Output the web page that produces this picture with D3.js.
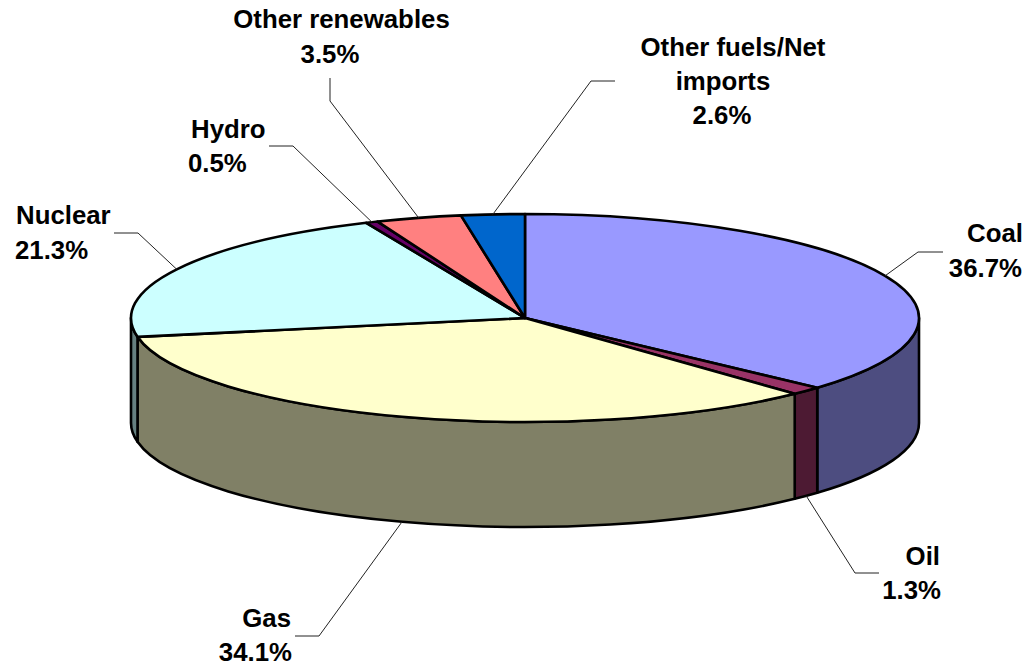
<!DOCTYPE html>
<html><head><meta charset="utf-8">
<script src="https://cdn.jsdelivr.net/npm/d3@7/dist/d3.min.js"></script>
<style>html,body{margin:0;padding:0;background:#fff;overflow:hidden}
text{font-family:"Liberation Sans",Arial,sans-serif;font-weight:bold;font-size:25.8px;fill:#000}</style>
</head><body><svg id="c" width="1029" height="668"></svg>
<script>
const categories=["Coal","Oil","Gas","Nuclear","Hydro","Other renewables","Other fuels/Net imports"];
const values=[36.7,1.3,34.1,21.3,0.5,3.5,2.6];
const topColors=["#9999FF","#993366","#FFFFCC","#CCFFFF","#660066","#FF8080","#0066CC"];
const sideColors=["#4D4D80","#4D1A33","#808066","#668080","#330033","#804040","#003366"];
const labelLines=[["Coal"],["Oil"],["Gas"],["Nuclear"],["Hydro"],["Other renewables"],["Other fuels/Net","imports"]];
// label layout: per-line x and baseline, alignment, leader elbow and end
const labelLayout=[
 {xs:[1023,1022],ys:[242,277],a:"end",elbow:[918,252],end:[943,252]},
 {xs:[940,941],ys:[565,599],a:"end",elbow:[855,573],end:[879,573]},
 {xs:[291,292],ys:[627,661],a:"end",elbow:[319,636],end:[295,636]},
 {xs:[16,15],ys:[224,259],a:"start",elbow:[138,233],end:[114,233]},
 {xs:[191,188],ys:[138,172],a:"start",elbow:[293,146],end:[269,146]},
 {xs:[341.5,330],ys:[28,63],a:"middle",elbow:[330,101],end:[330,78]},
 {xs:[733,723,722],ys:[56,90,124],a:"middle",elbow:[591,81],end:[615,81]}
];
const cx=525,cy=318,rx=394,ry=104,depth=105;
const svg=d3.select("#c");
const pie=d3.pie().sort(null).value(d=>d)(values);
const px=a=>cx+rx*Math.sin(a), py=a=>cy-ry*Math.cos(a);

// side walls: only the front half of the ellipse is visible
const sideG=svg.append("g");
pie.forEach((s,i)=>{
  const a0=Math.max(s.startAngle,Math.PI/2),a1=Math.min(s.endAngle,3*Math.PI/2);
  if(a1<=a0)return;
  const large=(a1-a0)>Math.PI?1:0;
  const d=`M${px(a0)},${py(a0)}A${rx},${ry} 0 ${large} 1 ${px(a1)},${py(a1)}L${px(a1)},${py(a1)+depth}A${rx},${ry} 0 ${large} 0 ${px(a0)},${py(a0)+depth}Z`;
  sideG.append("path").attr("d",d).attr("fill",sideColors[i]).attr("stroke","#000").attr("stroke-width",2.6).attr("stroke-linejoin","round");
});

// top faces
const arc=d3.arc().innerRadius(0).outerRadius(rx);
svg.append("g").attr("transform",`translate(${cx},${cy}) scale(1,${ry/rx})`)
 .selectAll("path").data(pie).join("path")
 .attr("d",arc).attr("fill",(d,i)=>topColors[i]).attr("stroke","#000")
 .attr("stroke-width",2.6).attr("stroke-linejoin","round").attr("vector-effect","non-scaling-stroke");

// leaders
const line=d3.line();
pie.forEach((s,i)=>{
  const m=(s.startAngle+s.endAngle)/2, L=labelLayout[i];
  const onSide=Math.cos(m)<0 && categories[i]!=="Nuclear";
  const anchor=[px(m),py(m)+(onSide?depth:0)];
  svg.append("path").attr("d",line([anchor,L.elbow,L.end])).attr("fill","none").attr("stroke","#222").attr("stroke-width",1);
});

// labels
categories.forEach((c,i)=>{
  const L=labelLayout[i];
  const t=svg.append("text").attr("text-anchor",L.a);
  const lines=labelLines[i].concat([values[i].toFixed(1)+"%"]);
  lines.forEach((s,j)=>t.append("tspan").attr("x",L.xs[j]).attr("y",L.ys[j]).text(s));
});
</script></body></html>
